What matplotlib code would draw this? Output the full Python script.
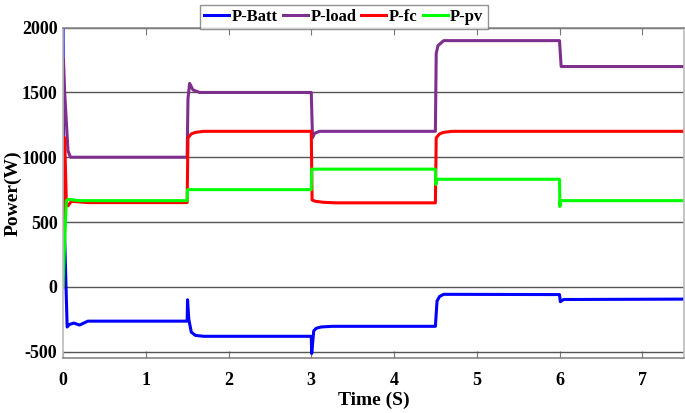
import matplotlib
matplotlib.use("Agg")
import matplotlib.pyplot as plt

# Puntos (tiempo en s, potencia en W)
t_batt = [0, 0.01, 0.05, 0.08, 0.13, 0.2, 0.3, 1.5, 1.505, 1.52, 1.55, 1.6, 1.7,
          3.0, 3.005, 3.03, 3.06, 3.12, 3.25, 4.5, 4.52, 4.55, 4.6, 6.0, 6.01, 6.05, 7.5]
p_batt = [2000, 600, -310, -290, -280, -295, -265, -265, -100, -250, -350, -375, -382,
          -382, -515, -340, -320, -310, -305, -305, -110, -75, -58, -60, -115, -98, -95]

t_load = [0, 0.005, 0.02, 0.06, 0.09, 0.2, 1.5, 1.51, 1.53, 1.57, 1.65,
          3.0, 3.015, 3.04, 3.1, 4.5, 4.51, 4.53, 4.6, 6.0, 6.02, 7.5]
p_load = [0, 1760, 1500, 1050, 1000, 1000, 1000, 1450, 1570, 1520, 1500,
          1500, 1150, 1185, 1200, 1200, 1800, 1860, 1900, 1900, 1700, 1700]

t_fc = [0, 0.01, 0.02, 0.04, 0.06, 0.1, 0.3, 1.5, 1.51, 1.55, 1.6, 1.7,
        3.0, 3.01, 3.05, 3.15, 3.3, 4.5, 4.51, 4.55, 4.6, 4.7, 7.5]
p_fc = [0, 800, 1150, 650, 625, 660, 650, 650, 1150, 1180, 1192, 1200,
        1200, 670, 660, 652, 648, 648, 1150, 1180, 1192, 1200, 1200]

t_pv = [0, 0.02, 0.04, 0.06, 0.2, 1.5, 1.505, 3.0, 3.005, 4.5, 4.505, 4.52,
        6.0, 6.005, 6.01, 7.5]
p_pv = [0, 350, 665, 675, 665, 665, 750, 750, 908, 908, 790, 830,
        830, 620, 665, 665]

series = [
    ("P-Batt", t_batt, p_batt, "#0000FF"),
    ("P-load", t_load, p_load, "#7E2F8E"),
    ("P-fc", t_fc, p_fc, "#FF0000"),
    ("P-pv", t_pv, p_pv, "#00FF00"),
]

plt.rcParams["font.family"] = ["Liberation Serif", "DejaVu Serif"]
plt.rcParams["font.weight"] = "bold"

fig = plt.figure(figsize=(6.85, 4.13), dpi=100)
ax = fig.add_axes([0.092, 0.133, 0.906, 0.8])

for name, t, p, color in series:
    ax.plot(t, p, color=color, linewidth=2.2, label=name)

ax.set_xlim(0, 7.5)
ax.set_ylim(-550, 2000)
ax.set_xticks(range(0, 8))
ax.set_yticks([-500, 0, 500, 1000, 1500, 2000])
ax.set_yticklabels(["-500", "0", "500", "1000", "1500", "2000"])

ax.yaxis.grid(True, color="#555555", linewidth=1.0)
ax.set_axisbelow(True)
ax.tick_params(axis="x", direction="in", top=True, length=5, color="#777777",
               labelsize=13, pad=10)
ax.tick_params(axis="y", length=0, labelsize=13, pad=4)
for lbl in ax.get_xticklabels() + ax.get_yticklabels():
    lbl.set_fontweight("bold")
for s in ax.spines.values():
    s.set_color("#BBBBBB")
    s.set_linewidth(1.2)
ax.spines["top"].set_color("#888888")
ax.spines["bottom"].set_color("#888888")

ax.set_xlabel("Time (S)", fontsize=14, fontweight="bold", labelpad=2)
ax.set_ylabel("Power(W)", fontsize=14, fontweight="bold")
ax.yaxis.set_label_coords(-0.066, 0.5)

leg = fig.legend(loc="upper center", bbox_to_anchor=(0.502, 1.0), ncol=4,
                 prop={"size": 12, "weight": "bold"}, frameon=True, fancybox=False,
                 handlelength=1.5, handletextpad=0.15, columnspacing=0.3,
                 borderpad=0.25, borderaxespad=0.3, edgecolor="#777777")
leg.get_frame().set_linewidth(1.0)

fig.savefig("out.png", dpi=100)
